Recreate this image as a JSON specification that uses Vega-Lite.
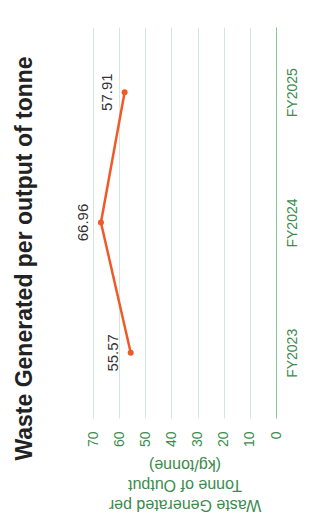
{
  "$schema": "https://vega.github.io/schema/vega-lite/v6.json",
  "width": 183,
  "height": 391,
  "autosize": {"type": "none"},
  "padding": {"left": 93, "top": 27, "right": 54, "bottom": 103},
  "background": "white",
  "config": {"view": {"stroke": null}, "font": "Liberation Sans"},
  "title": {
    "text": "Waste Generated per output of tonne",
    "orient": "left",
    "anchor": "middle",
    "frame": "group",
    "dx": -36,
    "offset": 39,
    "font": "Liberation Sans",
    "fontSize": 23,
    "fontWeight": "bold",
    "color": "#222222"
  },
  "data": {
    "values": [
      {"year": "FY2023", "value": 55.57},
      {"year": "FY2024", "value": 66.96},
      {"year": "FY2025", "value": 57.91}
    ]
  },
  "encoding": {
    "x": {
      "field": "value",
      "type": "quantitative",
      "scale": {"domain": [0, 70], "reverse": true, "nice": false, "zero": true},
      "axis": {
        "orient": "bottom",
        "values": [0, 10, 20, 30, 40, 50, 60, 70],
        "grid": true,
        "gridColor": "#d5e6da",
        "gridWidth": 1,
        "domain": false,
        "ticks": false,
        "tickSize": 0,
        "labelAngle": 270,
        "labelAlign": "right",
        "labelBaseline": "middle",
        "labelPadding": 13,
        "labelFontSize": 14,
        "labelColor": "#3d8b4e",
        "labelFont": "Liberation Sans",
        "title": ["Waste Generated per", "Tonne of Output", "(kg/tonne)"],
        "titleAngle": 180,
        "titleBaseline": "bottom",
        "titleAlign": "center",
        "titleY": 78,
        "titleFontSize": 16,
        "titleFontWeight": "normal",
        "titleLineHeight": 20,
        "titleColor": "#3d8b4e",
        "titleFont": "Liberation Sans"
      }
    },
    "y": {
      "field": "year",
      "type": "ordinal",
      "scale": {"type": "point", "domain": ["FY2025", "FY2024", "FY2023"], "padding": 0.5},
      "axis": {
        "orient": "right",
        "title": null,
        "domain": true,
        "domainColor": "#8cc49a",
        "domainWidth": 1,
        "ticks": false,
        "tickSize": 0,
        "grid": false,
        "labelAngle": 270,
        "labelAlign": "center",
        "labelBaseline": "top",
        "labelPadding": 9,
        "labelFontSize": 14,
        "labelColor": "#3d8b4e",
        "labelFont": "Liberation Sans"
      }
    }
  },
  "layer": [
    {
      "mark": {
        "type": "line",
        "color": "#f05a28",
        "strokeWidth": 2.5,
        "point": {"filled": true, "size": 36, "color": "#f05a28", "opacity": 1}
      },
      "encoding": {"order": {"field": "year", "type": "ordinal"}}
    },
    {
      "mark": {
        "type": "text",
        "angle": 270,
        "dy": -18,
        "align": "center",
        "baseline": "middle",
        "fontSize": 15,
        "font": "Liberation Sans",
        "color": "#333333"
      },
      "encoding": {"text": {"field": "value", "type": "quantitative", "format": ".2f"}}
    }
  ]
}
